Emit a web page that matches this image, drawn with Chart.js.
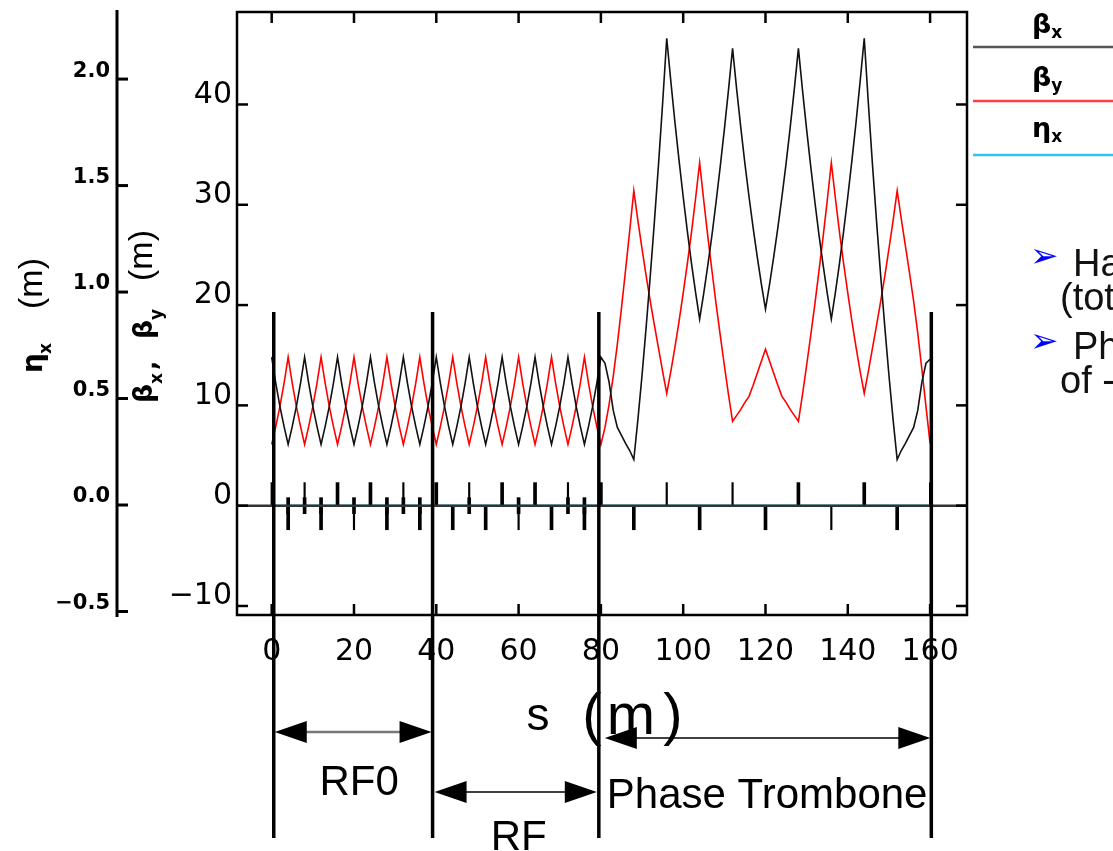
<!DOCTYPE html>
<html><head><meta charset="utf-8">
<script src="https://cdn.jsdelivr.net/npm/chart.js@4.4.1/dist/chart.umd.min.js"></script>
<style>html,body{margin:0;padding:0;background:#fff;overflow:hidden}#c{display:block}</style>
</head><body>
<canvas id="c" width="1113" height="851"></canvas>
<script>
// ---- data ----
const sPos = [
  0,1,2,3,4,5,6,7,8,9,10,11,12,13,14,15,16,17,18,19,
  20,21,22,23,24,25,26,27,28,29,30,31,32,33,34,35,36,37,38,39,
  40,41,42,43,44,45,46,47,48,49,50,51,52,53,54,55,56,57,58,59,
  60,61,62,63,64,65,66,67,68,69,70,71,72,73,74,75,76,77,78,79,
  80,81,82,83,84,85,86,87,88,89,90,91,92,93,94,95,96,97,98,99,
  100,101,102,103,104,105,106,107,108,109,110,111,112,113,114,115,116,117,118,119,
  120,121,122,123,124,125,126,127,128,129,130,131,132,133,134,135,136,137,138,139,
  140,141,142,143,144,145,146,147,148,149,150,151,152,153,154,155,156,157,158,159,
  160
];
const betaX = [
  14.8,12.2,9.9,7.9,6.1,7.9,9.9,12.2, 14.8,12.2,9.9,7.9,6.1,7.9,9.9,12.2,
  14.8,12.2,9.9,7.9,6.1,7.9,9.9,12.2, 14.8,12.2,9.9,7.9,6.1,7.9,9.9,12.2,
  14.8,12.2,9.9,7.9,6.1,7.9,9.9,12.2, 14.8,12.2,9.9,7.9,6.1,7.9,9.9,12.2,
  14.8,12.2,9.9,7.9,6.1,7.9,9.9,12.2, 14.8,12.2,9.9,7.9,6.1,7.9,9.9,12.2,
  14.8,12.2,9.9,7.9,6.1,7.9,9.9,12.2, 14.8,12.2,9.9,7.9,6.1,7.9,9.9,12.2,
  14.8,
  14.2,12.3,9.5,7.8,7.0,6.2,5.5,4.6,
  8.6,13.0,17.8,22.9,28.3,34.0,40.1,46.6,
  42.3,38.2,34.4,30.8,27.4,24.2,21.3,18.6,
  21.2,24.0,27.0,30.3,33.8,37.5,41.4,45.6,
  41.5,37.7,34.1,30.8,27.7,24.8,22.1,19.6,
  22.1,24.8,27.7,30.8,34.1,37.7,41.5,45.6,
  41.4,37.5,33.8,30.3,27.0,24.0,21.2,18.6,
  21.3,24.2,27.4,30.8,34.4,38.2,42.3,46.6,
  40.1,34.0,28.3,22.9,17.8,13.0,8.6,4.6,
  5.5,6.2,7.0,7.8,9.5,12.3,14.2,14.6
];
const betaY = [
  6.1,7.9,9.9,12.2,14.8,12.2,9.9,7.9, 6.1,7.9,9.9,12.2,14.8,12.2,9.9,7.9,
  6.1,7.9,9.9,12.2,14.8,12.2,9.9,7.9, 6.1,7.9,9.9,12.2,14.8,12.2,9.9,7.9,
  6.1,7.9,9.9,12.2,14.8,12.2,9.9,7.9, 6.1,7.9,9.9,12.2,14.8,12.2,9.9,7.9,
  6.1,7.9,9.9,12.2,14.8,12.2,9.9,7.9, 6.1,7.9,9.9,12.2,14.8,12.2,9.9,7.9,
  6.1,7.9,9.9,12.2,14.8,12.2,9.9,7.9, 6.1,7.9,9.9,12.2,14.8,12.2,9.9,7.9,
  6.1,
  7.8,10.1,12.9,16.1,19.7,23.5,27.4,31.4,
  28.4,25.6,22.9,20.4,18.0,15.7,13.4,11.2,
  13.4,15.8,18.4,21.2,24.1,27.2,30.6,34.2,
  30.4,26.8,23.4,20.1,17.0,14.0,11.1,8.4,
  9.0,9.6,10.3,10.9,12.0,13.2,14.4,15.6,
  14.4,13.2,12.0,10.9,10.3,9.6,9.0,8.4,
  11.1,14.0,17.0,20.1,23.4,26.8,30.4,34.2,
  30.6,27.2,24.1,21.2,18.4,15.8,13.4,11.2,
  13.4,15.7,18.0,20.4,22.9,25.6,28.4,31.4,
  28.6,25.9,23.2,20.4,17.2,13.6,9.9,6.2
];
const etaS = [0, 160];
const etaX = [0, 0];

// lattice markers (s positions) and marker heights (beta-axis units)
const focThickS = [16, 24, 40, 56, 64, 80, 128, 144];
const focThinS  = [0, 8, 32, 48, 72, 96, 112, 160];
const defThickS = [4, 12, 28, 36, 44, 52, 68, 76, 88, 104, 120, 152];
const defThinS  = [20, 60, 136];
const smallS    = [4, 8, 12, 20, 28, 32, 36, 48, 60, 72, 76];
const focHeight = 2.3;
const defHeight = -2.4;
const smallRange = [-0.8, 0.8];

// section boundaries drawn as annotation lines (s, m)
const sectionS = [0.5, 39.1, 79.5, 160.3];
const sectionNames = ['RF0', 'RF', 'Phase Trombone'];

// tick labels
const xTicks = [0, 20, 40, 60, 80, 100, 120, 140, 160];
const betaTicks = [-10, 0, 10, 20, 30, 40];
const etaTicks = [-0.5, 0.0, 0.5, 1.0, 1.5, 2.0];

const minus = t => t.replace('-', '\u2212');

function line(ctx, x1, y1, x2, y2) { ctx.beginPath(); ctx.moveTo(x1, y1); ctx.lineTo(x2, y2); ctx.stroke(); }
function noPad(s) { s.paddingTop = 0; s.paddingBottom = 0; s.paddingLeft = 0; s.paddingRight = 0; }

const decor = {
  id: 'decor',
  afterDraw(chart) {
    const ctx = chart.ctx, a = chart.chartArea;
    const xs = chart.scales.x, yb = chart.scales.y, ye = chart.scales.yEta;
    ctx.save();
    ctx.lineCap = 'butt';
    // lattice baseline
    ctx.strokeStyle = '#333'; ctx.lineWidth = 2.5;
    const y0 = yb.getPixelForValue(0);
    line(ctx, a.left, y0, a.right, y0);
    // frame
    ctx.strokeStyle = '#000'; ctx.lineWidth = 2.5;
    ctx.strokeRect(a.left, a.top, a.right - a.left, a.bottom - a.top);
    xTicks.forEach(v => { const p = xs.getPixelForValue(v); line(ctx, p, a.bottom, p, a.bottom - 11); line(ctx, p, a.top, p, a.top + 11); });
    betaTicks.forEach(v => { const p = yb.getPixelForValue(v); line(ctx, a.left, p, a.left + 11, p); line(ctx, a.right, p, a.right - 11, p); });
    // eta axis
    ctx.lineWidth = 3;
    line(ctx, ye.right, a.top - 2, ye.right, a.bottom + 2);
    etaTicks.forEach(v => { const p = ye.getPixelForValue(v); line(ctx, ye.right, p, ye.right + 11, p); });

    // axis titles (rotated)
    ctx.fillStyle = '#000'; ctx.textAlign = 'left'; ctx.textBaseline = 'alphabetic';
    function rot(x, y, pieces) {
      ctx.save(); ctx.translate(x, y); ctx.rotate(-Math.PI / 2);
      pieces.forEach(p => { ctx.font = p.f; ctx.fillText(p.t, p.u, p.v); });
      ctx.restore();
    }
    rot(42, 373, [
      {t: '\u03b7', f: 'bold 28px "DejaVu Sans"', u: 0, v: 0},
      {t: 'x', f: 'bold 17px "DejaVu Sans"', u: 19, v: 9},
      {t: '(m)', f: '34px "Liberation Sans"', u: 64, v: 0}
    ]);
    rot(152, 403, [
      {t: '\u03b2', f: 'bold 27px "DejaVu Sans"', u: 0, v: 0},
      {t: 'x', f: 'bold 17px "DejaVu Sans"', u: 19, v: 10},
      {t: ',', f: 'bold 24px "DejaVu Sans"', u: 33, v: 4},
      {t: '\u03b2', f: 'bold 27px "DejaVu Sans"', u: 64, v: 0},
      {t: 'y', f: 'bold 17px "DejaVu Sans"', u: 83, v: 10},
      {t: '(m)', f: '34px "Liberation Sans"', u: 122, v: 0}
    ]);

    // x title
    ctx.font = '46px "Liberation Sans"'; ctx.textAlign = 'center';
    ctx.fillText('s', 538, 730);
    ctx.font = '58px "Liberation Sans"';
    ctx.fillText('(', 592, 734); ctx.fillText('m', 631, 734); ctx.fillText(')', 673, 734);

    // legend
    function legendRow(g, sub, yb2, ly, col) {
      ctx.textAlign = 'left'; ctx.fillStyle = '#000';
      ctx.font = 'bold 27px "DejaVu Sans"'; ctx.fillText(g, 1032, yb2);
      const w = ctx.measureText(g).width;
      ctx.font = 'bold 17px "DejaVu Sans"'; ctx.fillText(sub, 1032 + w, yb2 + 5);
      ctx.strokeStyle = col; ctx.lineWidth = 2.5; line(ctx, 973, ly, 1113, ly);
    }
    legendRow('\u03b2', 'x', 33, 47, '#555');
    legendRow('\u03b2', 'y', 86, 101, '#ff4040');
    legendRow('\u03b7', 'x', 137, 155, '#33c3f0');

    // bullet text (cut by the right edge)
    ctx.textAlign = 'left';
    ctx.fillStyle = '#0000ff'; ctx.font = '34px "DejaVu Sans"';
    ctx.fillText('\u27a2', 1030, 267); ctx.fillText('\u27a2', 1030, 352);
    ctx.fillStyle = '#111'; ctx.font = '38px "Liberation Sans"';
    ctx.fillText('Ha', 1073, 276); ctx.fillText('(tot', 1060, 310);
    ctx.fillText('Ph', 1073, 359); ctx.fillText('of -', 1060, 393);

    // section annotation lines
    const lx = sectionS.map(s => xs.getPixelForValue(s));
    const lTop = yb.getPixelForValue(19.3);
    ctx.strokeStyle = '#000'; ctx.lineWidth = 3.5;
    lx.forEach(p => line(ctx, p, lTop, p, 838));
    function tri(xt, y, dir) { ctx.beginPath(); ctx.moveTo(xt, y); ctx.lineTo(xt + dir * 32, y - 11); ctx.lineTo(xt + dir * 32, y + 11); ctx.closePath(); ctx.fill(); }
    function arrow(x1, x2, y, col, w) {
      ctx.strokeStyle = col; ctx.lineWidth = w; line(ctx, x1 + 20, y, x2 - 20, y);
      ctx.fillStyle = '#000'; tri(x1, y, 1); tri(x2, y, -1);
    }
    arrow(lx[0] + 1, lx[1] - 1, 732, '#777', 2.5);
    arrow(lx[1] + 2, lx[2] - 2, 792, '#000', 1.5);
    arrow(lx[2] + 6, lx[3] - 1, 738, '#000', 1.5);
    ctx.fillStyle = '#000'; ctx.font = '42px "Liberation Sans"';
    ctx.textAlign = 'center';
    ctx.fillText(sectionNames[0], (lx[0] + lx[1]) / 2 + 6, 795);
    ctx.fillText(sectionNames[1], (lx[1] + lx[2]) / 2 + 3, 850);
    ctx.textAlign = 'left';
    ctx.fillText(sectionNames[2], lx[2] + 8, 808);
    ctx.restore();
  }
};

const pts = (xsArr, ysArr) => xsArr.map((s, i) => ({x: s, y: ysArr[i]}));
const bars = (arr, v) => arr.map(s => ({x: s, y: v}));

new Chart(document.getElementById('c'), {
  type: 'line',
  data: {
    datasets: [
      {label: 'βx', data: pts(sPos, betaX), borderColor: '#111', borderWidth: 1.6, pointRadius: 0, tension: 0, yAxisID: 'y', order: 2},
      {label: 'βy', data: pts(sPos, betaY), borderColor: '#ff0000', borderWidth: 1.6, pointRadius: 0, tension: 0, yAxisID: 'y', order: 3},
      {label: 'ηx', data: pts(etaS, etaX), borderColor: '#33c3f0', borderWidth: 1, pointRadius: 0, yAxisID: 'yEta', order: 10},
      {type: 'bar', label: 'QF', data: bars(focThickS, focHeight), backgroundColor: '#000', barThickness: 3, grouped: false, yAxisID: 'y', order: 0},
      {type: 'bar', label: 'QF thin', data: bars(focThinS, focHeight), backgroundColor: '#000', barThickness: 1.5, grouped: false, yAxisID: 'y', order: 0},
      {type: 'bar', label: 'QD', data: bars(defThickS, defHeight), backgroundColor: '#000', barThickness: 3, grouped: false, yAxisID: 'y', order: 0},
      {type: 'bar', label: 'QD thin', data: bars(defThinS, defHeight), backgroundColor: '#000', barThickness: 1.5, grouped: false, yAxisID: 'y', order: 0},
      {type: 'bar', label: 'other', data: bars(smallS, smallRange), backgroundColor: '#000', barThickness: 3, grouped: false, yAxisID: 'y', order: 0}
    ]
  },
  options: {
    responsive: false, animation: false, devicePixelRatio: 1,
    layout: {padding: {left: 0, right: 146, top: 12, bottom: 176}},
    plugins: {legend: {display: false}, tooltip: {enabled: false}},
    scales: {
      x: {
        type: 'linear', position: 'bottom', min: -8.43, max: 168.97, offset: false,
        afterBuildTicks: s => { s.ticks = xTicks.map(v => ({value: v})); },
        afterFit: s => { s.height = 60; noPad(s); },
        grid: {display: false, drawTicks: false}, border: {display: false},
        ticks: {font: {family: 'DejaVu Sans', size: 30}, color: '#000', padding: 19, maxRotation: 0, autoSkip: false,
                callback: v => minus(String(v))}
      },
      yEta: {
        type: 'linear', position: 'left', weight: 1, min: -0.5165, max: 2.315,
        afterBuildTicks: s => { s.ticks = etaTicks.map(v => ({value: v})); },
        afterFit: s => { s.width = 117; noPad(s); },
        grid: {display: false, drawTicks: false}, border: {display: false},
        ticks: {font: {family: 'DejaVu Sans', size: 21, weight: 'bold'}, color: '#000', padding: 7, labelOffset: -8,
                callback: v => minus(Number(v).toFixed(1))}
      },
      y: {
        type: 'linear', position: 'left', weight: 0, min: -10.9, max: 49.22,
        afterBuildTicks: s => { s.ticks = betaTicks.map(v => ({value: v})); },
        afterFit: s => { s.width = 120; noPad(s); },
        grid: {display: false, drawTicks: false}, border: {display: false},
        ticks: {font: {family: 'DejaVu Sans', size: 30}, color: '#000', padding: 5, labelOffset: -9.5,
                callback: v => minus(String(v))}
      }
    }
  },
  plugins: [decor]
});
</script></body></html>
